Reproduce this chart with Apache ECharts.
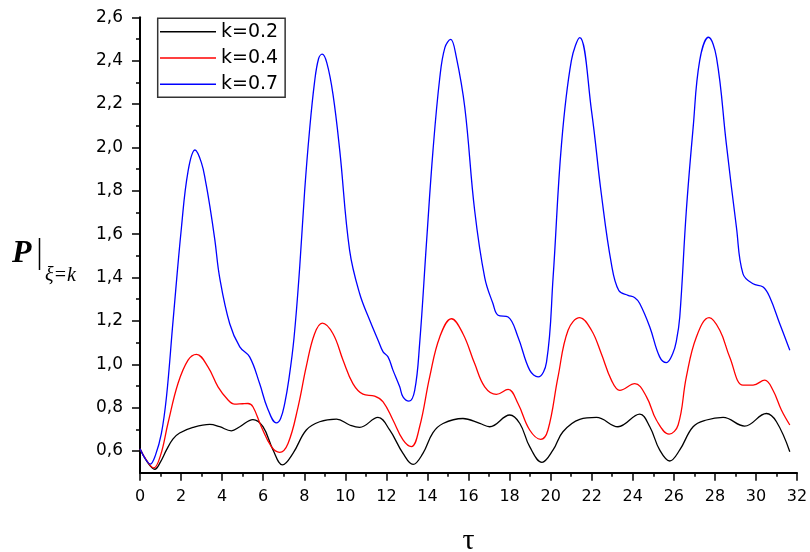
<!DOCTYPE html>
<html>
<head>
<meta charset="utf-8">
<title>P vs tau</title>
<script src="https://cdn.jsdelivr.net/npm/echarts@6/dist/echarts.min.js"></script>
<style>
    html, body { margin: 0; padding: 0; background: #fff; }
    #chart { width: 810px; height: 552px; }
</style>
</head>
<body>
<div id="chart"></div>
<script>
    // k = 0.2
    const tauK02 = [0, 0.35, 0.72, 1.0, 1.29, 1.6, 1.93, 2.58, 3.4, 3.88, 4.45, 4.86, 5.5, 5.99, 6.48, 6.94, 7.45, 8.1, 8.75, 9.57,
        10.21, 10.7, 11.59, 12.16, 12.81, 13.3, 13.78, 14.27, 14.76, 15.73, 16.55, 17.03, 18.01, 18.5, 18.98, 19.58, 20.12, 20.6,
        21.42, 22.23, 23.28, 24.34, 24.83, 25.31, 25.8, 26.29, 26.94, 27.59, 28.4, 29.45, 30.51, 31.0, 31.65];
    const pK02 = [0.61, 0.55, 0.516, 0.55, 0.605, 0.655, 0.683, 0.709, 0.723, 0.712, 0.693, 0.712, 0.745, 0.712, 0.605, 0.536, 0.589, 0.697, 0.735, 0.747,
        0.72, 0.709, 0.755, 0.697, 0.589, 0.538, 0.589, 0.685, 0.727, 0.75, 0.727, 0.712, 0.766, 0.727, 0.62, 0.548, 0.605, 0.689,
        0.746, 0.755, 0.712, 0.77, 0.712, 0.605, 0.554, 0.605, 0.712, 0.743, 0.755, 0.715, 0.773, 0.735, 0.597];

    // k = 0.4
    const tauK04 = [0, 0.3, 0.67, 1.0, 1.36, 1.85, 2.34, 2.75, 3.31, 3.8, 4.29, 4.61, 5.0, 5.26, 5.5, 5.91, 6.4, 6.8, 7.21, 7.7, 8.1, 8.5,
        8.88, 9.4, 9.89, 10.37, 10.86, 11.43, 11.84, 12.32, 12.81, 13.22, 13.62, 14.11, 14.6, 15.17, 15.73, 16.3, 16.79, 17.36,
        17.93, 18.41, 18.98, 19.52, 19.87, 20.36, 20.85, 21.42, 21.99, 22.47, 22.96, 23.37, 24.1, 24.67, 25.15, 25.77, 26.21,
        26.61, 27.1, 27.72, 28.24, 28.72, 29.37, 29.86, 30.43, 30.83, 31.24, 31.65];
    const pK04 = [0.61, 0.56, 0.522, 0.58, 0.727, 0.911, 1.019, 1.046, 0.988, 0.896, 0.835, 0.816, 0.818, 0.819, 0.804, 0.712, 0.62, 0.594, 0.635, 0.804, 0.99, 1.14,
        1.19, 1.141, 1.019, 0.911, 0.862, 0.853, 0.827, 0.743, 0.651, 0.62, 0.712, 0.942, 1.126, 1.21, 1.141, 1.003, 0.896, 0.861,
        0.884, 0.819, 0.697, 0.654, 0.697, 0.942, 1.157, 1.215, 1.157, 1.049, 0.927, 0.88, 0.911, 0.85, 0.743, 0.678, 0.72,
        0.942, 1.126, 1.215, 1.157, 1.034, 0.904, 0.904, 0.927, 0.88, 0.789, 0.72];

    // k = 0.7
    const tauK07 = [0, 0.25, 0.5, 0.75, 1.04, 1.29, 1.61, 2.02, 2.34, 2.68, 2.99, 3.2, 3.4, 3.65, 3.88, 4.37, 4.86, 5.34, 5.83, 6.2, 6.64,
        6.85, 7.05, 7.25, 7.5, 7.78, 8.02, 8.25, 8.5, 8.7, 8.87, 9.1, 9.4, 9.73, 10.21, 10.7, 11.19, 11.6, 11.84, 12.08, 12.32, 12.65,
        12.81, 13.1, 13.38, 13.62, 13.95, 14.27, 14.6, 14.85, 15.13, 15.4, 15.82, 16.3, 16.79, 17.19, 17.44, 17.93, 18.41, 18.98,
        19.39, 19.8, 20.12, 20.53, 21.01, 21.42, 21.99, 22.47, 22.96, 23.32, 23.77, 24.1, 24.34, 24.83, 25.31, 25.64, 25.95,
        26.13, 26.29, 26.61, 26.94, 27.26, 27.69, 28.08, 28.56, 29.05, 29.37, 29.86, 30.35, 30.67, 31.16, 31.65];
    const pK07 = [0.61, 0.565, 0.54, 0.58, 0.68, 0.85, 1.2, 1.632, 1.89, 1.988, 1.93, 1.84, 1.73, 1.57, 1.40, 1.187, 1.08, 1.034, 0.91, 0.8, 0.73,
        0.75, 0.82, 0.93, 1.12, 1.45, 1.8, 2.07, 2.3, 2.41, 2.43, 2.39, 2.245, 1.985, 1.525, 1.325, 1.203, 1.11, 1.057, 1.034, 0.973, 0.896,
        0.85, 0.83, 0.88, 1.095, 1.555, 1.985, 2.32, 2.46, 2.498, 2.42, 2.184, 1.709, 1.40, 1.28, 1.226, 1.218, 1.126, 0.973,
        0.942, 1.01, 1.40, 2.015, 2.40, 2.506, 2.17, 1.785, 1.463, 1.34, 1.318, 1.307, 1.28, 1.172, 1.034, 1.008, 1.05,
        1.11, 1.218, 1.709, 2.09, 2.40, 2.508, 2.414, 2.015, 1.632, 1.417, 1.371, 1.356, 1.31, 1.187, 1.065];

    const xMinorTicks = [1, 3, 5, 7, 9, 11, 13, 15, 17, 19, 21, 23, 25, 27, 29, 31];
    const yTicks = [0.6, 0.8, 1.0, 1.2, 1.4, 1.6, 1.8, 2.0, 2.2, 2.4, 2.6];
    const yMinorTicks = [0.7, 0.9, 1.1, 1.3, 1.5, 1.7, 1.9, 2.1, 2.3, 2.5];

    const zip = (xs, ys) => xs.map((x, i) => [x, ys[i]]);

    let myChart = echarts.init(document.getElementById('chart'));
    let option = {
        animation: false,
        backgroundColor: '#fff',
        grid: { left: 140, right: 13, top: 17.3, bottom: 79.3, containLabel: false, outerBoundsMode: 'none' },
        legend: {
            orient: 'vertical',
            left: 157.7,
            top: 18.3,
            padding: [3.4, 7, 3, 2.3],
            icon: 'rect',
            itemWidth: 56,
            itemHeight: 1.4,
            itemGap: 6.3,
            itemTextGap: 6.7,
            borderColor: '#333',
            borderWidth: 1.5,
            textStyle: { fontFamily: 'DejaVu Sans', fontSize: 19, color: '#000', lineHeight: 20 },
            data: ['k=0.2', 'k=0.4', 'k=0.7']
        },
        xAxis: [{
            type: 'value',
            min: 0, max: 32, interval: 2,
            name: 'τ',
            nameLocation: 'middle',
            nameGap: 53,
            nameTextStyle: { fontFamily: 'Liberation Serif', fontSize: 30, color: '#000' },
            axisLine: { show: true, onZero: false, lineStyle: { color: '#000', width: 2 } },
            axisTick: { show: true, length: 8, lineStyle: { color: '#000', width: 1.5 } },
            axisLabel: { fontFamily: 'DejaVu Sans', fontSize: 16, color: '#000', margin: 16 },
            splitLine: { show: false }
        }, {
            type: 'value',
            min: 0, max: 32,
            position: 'bottom',
            axisLine: { show: false },
            axisTick: { show: true, customValues: xMinorTicks, length: 4, lineStyle: { color: '#000', width: 1.5 } },
            axisLabel: { show: false },
            splitLine: { show: false }
        }],
        yAxis: [{
            type: 'value',
            min: 0.5, max: 2.6,
            axisLine: { show: true, onZero: false, lineStyle: { color: '#000', width: 2 } },
            axisTick: { show: true, customValues: yTicks, length: 8, lineStyle: { color: '#000', width: 1.5 } },
            axisLabel: {
                customValues: yTicks,
                fontFamily: 'DejaVu Sans', fontSize: 17, color: '#000', margin: 17,
                formatter: v => v.toFixed(1).replace('.', ',')
            },
            splitLine: { show: false }
        }, {
            type: 'value',
            min: 0.5, max: 2.6,
            position: 'left',
            axisLine: { show: false },
            axisTick: { show: true, customValues: yMinorTicks, length: 4, lineStyle: { color: '#000', width: 1.5 } },
            axisLabel: { show: false },
            splitLine: { show: false }
        }],
        graphic: [
            { type: 'text', left: 12, top: 238, style: { text: 'P', font: 'italic bold 32px "Liberation Serif"', fill: '#000' } },
            { type: 'line', shape: { x1: 39.5, y1: 238, x2: 39.5, y2: 270 }, style: { stroke: '#000', lineWidth: 1.5 } },
            { type: 'text', left: 45, top: 266, style: { text: 'ξ=k', font: 'italic 20px "Liberation Serif"', fill: '#000' } }
        ],
        series: [
            { name: 'k=0.2', type: 'line', data: zip(tauK02, pK02), smooth: 0.4, symbol: 'none', lineStyle: { color: '#000', width: 1.3 }, itemStyle: { color: '#000' } },
            { name: 'k=0.4', type: 'line', data: zip(tauK04, pK04), smooth: 0.4, symbol: 'none', lineStyle: { color: '#ff0000', width: 1.3 }, itemStyle: { color: '#ff0000' } },
            { name: 'k=0.7', type: 'line', data: zip(tauK07, pK07), smooth: 0.4, symbol: 'none', lineStyle: { color: '#0000ff', width: 1.3 }, itemStyle: { color: '#0000ff' } }
        ]
    };
    myChart.setOption(option);
</script>
</body>
</html>
